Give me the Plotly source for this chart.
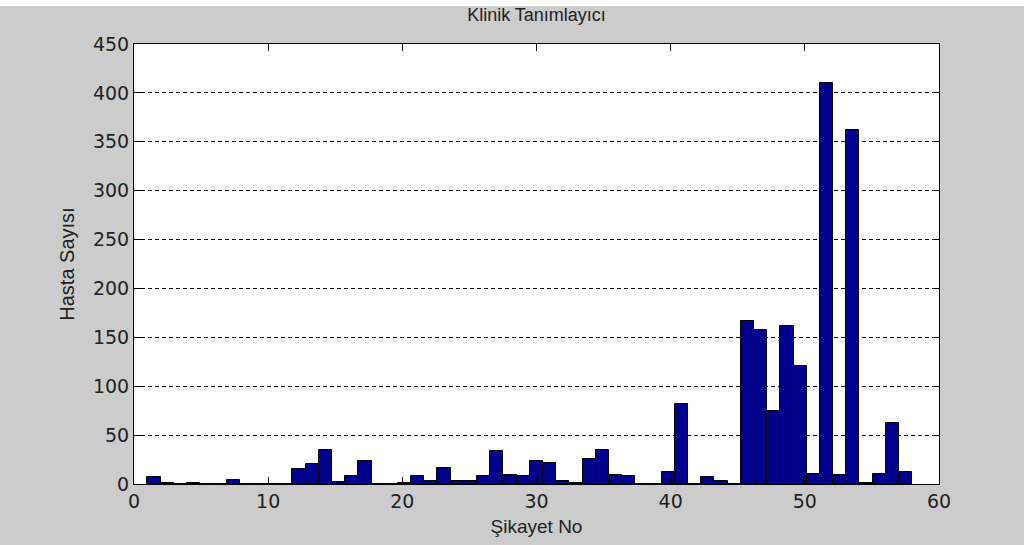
import plotly.graph_objects as go

# Histogram counts for 58 bins (Şikayet No 1..58)
counts = [7, 1, 0, 1, 0, 0, 4, 0, 0, 0,
          0, 15, 20, 35, 2, 8, 24, 0, 0, 1,
          8, 3, 16, 3, 3, 8, 34, 9, 8, 24,
          21, 3, 1, 26, 35, 9, 8, 0, 0, 12,
          82, 0, 7, 3, 0, 167, 157, 75, 162, 121,
          10, 410, 9, 362, 1, 10, 62, 12]
data_min = 1
data_max = 58
title_text = "Klinik Tanımlayıcı"
x_title = "Şikayet No"
y_title = "Hasta Sayısı"
x_ticks = [0, 10, 20, 30, 40, 50, 60]
y_ticks = [0, 50, 100, 150, 200, 250, 300, 350, 400, 450]

nbins = len(counts)
bw = (data_max - data_min) / nbins
centers = [data_min + bw * (i + 0.5) for i in range(nbins)]

W, H = 1024, 545
L, R, T, B = 134, 85, 44, 59
ph = H - T - B

fig = go.Figure()
fig.add_trace(go.Bar(
    x=centers, y=counts, width=[bw] * nbins,
    marker=dict(color="#00008a", line=dict(color="black", width=1)),
    showlegend=False, hoverinfo="x+y"))

tick_family = "DejaVu Sans"
text_family = "Liberation Sans"
txt_col = "#222222"
fig.update_layout(
    width=W, height=H,
    margin=dict(l=L, r=R, t=T, b=B),
    paper_bgcolor="#cccccc",
    plot_bgcolor="white",
    bargap=0,
    font=dict(family=tick_family, color=txt_col, size=18),
    title=dict(text=title_text, x=(L + (W - L - R) / 2) / W, xanchor="center",
               y=1 - 15 / H, yanchor="middle",
               font=dict(family=text_family, size=18, color=txt_col)),
    shapes=[dict(type="rect", xref="paper", yref="paper", x0=-0.2, x1=1.2,
                 y0=1 + (T - 6) / ph, y1=1 + T / ph + 0.01,
                 fillcolor="white", line=dict(width=0), layer="below")],
)
fig.update_xaxes(
    range=[0, 60], tickvals=x_ticks, ticktext=[str(v) for v in x_ticks],
    ticks="inside", ticklen=7, tickcolor="black", tickwidth=1,
    showline=True, linecolor="black", linewidth=1, mirror="ticks",
    showgrid=False, zeroline=False,
    tickfont=dict(size=19, family=tick_family, color=txt_col),
    title=dict(text=x_title, standoff=8, font=dict(size=19, family=text_family, color=txt_col)),
)
fig.update_yaxes(
    range=[0, 450], tickvals=y_ticks, ticktext=[str(v) for v in y_ticks],
    ticks="inside", ticklen=7, tickcolor="black", tickwidth=1,
    showline=True, linecolor="black", linewidth=1, mirror="ticks",
    showgrid=True, gridcolor="black", gridwidth=1, griddash="4px,3px",
    zeroline=False,
    tickfont=dict(size=19, family=tick_family, color=txt_col),
    title=dict(text=y_title, standoff=12, font=dict(size=20, family=text_family, color=txt_col)),
)

fig.write_html("out.html")
